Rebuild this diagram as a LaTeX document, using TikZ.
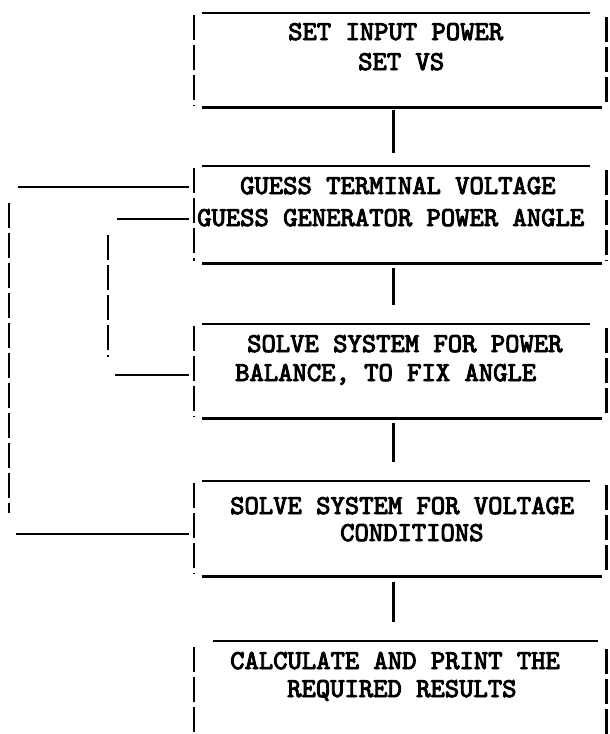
\documentclass[tikz,border=0pt]{standalone}
\usepackage{fontspec}
\newfontfamily\tw{lmmono10-regular}[Extension=.otf, FakeBold=3.5]
\begin{document}
\begin{tikzpicture}[x=1pt,y=-1pt,
  box/.style={rectangle, inner sep=0pt, minimum width=412pt, anchor=north west},
  hline/.style={line width=2.6pt},
  vside/.style={line width=2.8pt, dash pattern=on 25pt off 5pt},
  conn/.style={line width=2.6pt},
  txt/.style={anchor=base west, inner sep=0pt, font=\tw\fontsize{27.3}{30}\selectfont}]
\useasboundingbox (0,0) rectangle (610,734);
\fill[white] (0,0) rectangle (610,734);

% boxes
\node[box, minimum height=94pt] (b1) at (194,13) {};
\node[box, minimum height=97pt] (b2) at (194,166) {};
\node[box, minimum height=94pt] (b3) at (194,324) {};
\node[box, minimum height=95pt] (b4) at (194,481) {};
\node[box, minimum height=93pt] (b5) at (194,641) {};

\foreach \b in {b1,b2,b3,b4}{
  \draw[hline] ([xshift=8pt]\b.north west) -- ([xshift=-16pt]\b.north east);
  \draw[hline] ([xshift=8pt]\b.south west) -- ([xshift=-4pt]\b.south east);
  \draw[vside] ([yshift=-2pt]\b.north west) -- ([yshift=2pt]\b.south west);
  \draw[vside] ([yshift=-4pt]\b.north east) -- ([yshift=2pt]\b.south east);
}
\draw[hline] ([xshift=19pt]b5.north west) -- ([xshift=-8pt]b5.north east);
\draw[vside] ([yshift=-6pt]b5.north west) -- (b5.south west);
\draw[vside] ([yshift=-8pt]b5.north east) -- (b5.south east);

% texts
\node[txt] (t11) at (288,40) {SET INPUT POWER};
\node[txt] (t12) at (358,70) {SET VS};
\node[txt] (t21) at (240,194) {GUESS TERMINAL VOLTAGE};
\node[txt] (t22) at (197,226) {GUESS GENERATOR POWER ANGLE};
\node[txt] (t31) at (247,352) {SOLVE SYSTEM FOR POWER};
\node[txt] (t32) at (235,381) {BALANCE, TO FIX ANGLE};
\node[txt] (t41) at (230,514) {SOLVE SYSTEM FOR VOLTAGE};
\node[txt] (t42) at (340,541) {CONDITIONS};
\node[txt] (t51) at (230,669) {CALCULATE AND PRINT THE};
\node[txt] (t52) at (287,697) {REQUIRED RESULTS};

% main connectors
\draw[conn] ([xshift=-7pt,yshift=-3pt]b1.south) -- ([xshift=-7pt,yshift=13pt]b2.north);
\draw[conn] ([xshift=-7pt,yshift=-5pt]b2.south) -- ([xshift=-7pt,yshift=19pt]b3.north);
\draw[conn] ([xshift=-7pt,yshift=-5pt]b3.south) -- ([xshift=-7pt,yshift=19pt]b4.north);
\draw[conn] ([xshift=-7pt,yshift=-6pt]b4.south) -- ([xshift=-7pt,yshift=19pt]b5.north);

% outer feedback loop
\coordinate (fo1) at (18,187);
\coordinate (fo2) at (9,203);
\coordinate (fo3) at (9,513);
\coordinate (fo4) at (16,534);
\draw[hline, shorten >=5pt] (fo1) -- (b2.west |- fo1);
\draw[vside] (fo2) -- (fo3);
\draw[hline, shorten >=5pt] (fo4) -- (b4.west |- fo4);

% inner feedback loop
\coordinate (fi1) at (117,219);
\coordinate (fi2) at (108,235);
\coordinate (fi3) at (108,357);
\coordinate (fi4) at (115,375);
\draw[hline, shorten >=5pt] (fi1) -- (b2.west |- fi1);
\draw[vside] (fi2) -- (fi3);
\draw[hline, shorten >=5pt] (fi4) -- (b3.west |- fi4);
\end{tikzpicture}
\end{document}
